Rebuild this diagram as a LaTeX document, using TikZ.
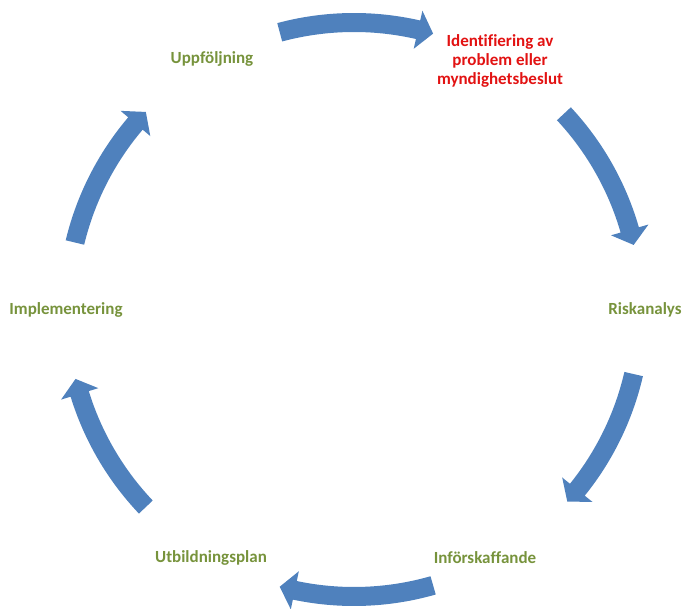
\documentclass[tikz,border=0pt]{standalone}
\usepackage{fontspec}
\setmainfont{Carlito}[Ligatures={NoCommon}]
\definecolor{arrowblue}{RGB}{79,129,189}
\definecolor{labelgreen}{RGB}{119,147,60}
\definecolor{labelred}{RGB}{226,18,18}
\newcommand\cyclearrow[2]{%
  \pgfmathsetmacro\headang{#2+3.1}%
  \fill[blockarrow] (#1:296.5) arc[start angle=#1, end angle=\headang, radius=296.5]
    -- (\headang:306.5) -- (#2:287) -- (\headang:267.5) -- (\headang:277.5)
    arc[start angle=\headang, end angle=#1, radius=277.5] -- cycle;}
\begin{document}
\begin{tikzpicture}[x=1pt,y=1pt,
  lbl/.style={font=\fontsize{17}{19}\selectfont\bfseries, text=labelgreen, align=center, inner sep=0pt},
  blockarrow/.style={fill=arrowblue, draw=none}]
\useasboundingbox (0,0) rectangle (682,608);
\coordinate (C) at (354,298.5);
\begin{scope}[shift={(C)}]
  \cyclearrow{105}{74}
  \cyclearrow{43}{13}
  \cyclearrow{-13}{-42}
  \cyclearrow{-74}{-105}
  \cyclearrow{223.5}{194}
  \cyclearrow{166.5}{136.5}
\end{scope}
\node[lbl, text=labelred] (ident) at (500,547) {Identifiering av\\problem eller\\myndighetsbeslut};
\node[lbl] (risk) at (645,298) {Riskanalys};
\node[lbl] (inf) at (485,50) {Införskaffande};
\node[lbl] (utb) at (211,50) {Utbildningsplan};
\node[lbl] (impl) at (66,298) {Implementering};
\node[lbl] (uppf) at (212,549) {Uppföljning};
\end{tikzpicture}
\end{document}
